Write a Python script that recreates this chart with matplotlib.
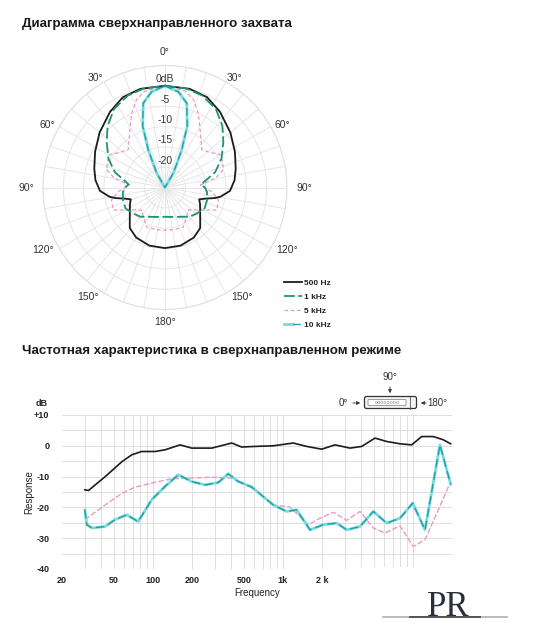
import numpy as np
import matplotlib
matplotlib.use('Agg')
import matplotlib.pyplot as plt
from matplotlib.patches import Rectangle, FancyBboxPatch
from matplotlib.legend_handler import HandlerTuple

plt.rcParams['font.family'] = ['Liberation Sans', 'DejaVu Sans']

# ---- polar pattern, half profile (0..180 deg), mirrored ----
ang_500 = [0, 14, 25, 36, 50, 63, 75, 84, 93, 99.5, 102, 105, 109, 115, 122, 130, 139, 150, 165, 180]
db_500 = [0, 0, -0.5, -2.0, -4.0, -5.7, -7.0, -7.8, -9.0, -11.2, -12.5, -14.5, -16.1, -15.5, -14.8,
          -13.7, -11.8, -10.8, -10.2, -10.1]

ang_1k = [0, 12, 22, 33, 43, 52, 63, 73, 80, 85, 90, 96, 107, 118, 129, 140, 150, 165, 180]
db_1k = [0, -0.1, -0.6, -2.0, -4.3, -6.8, -9.4, -12.1, -14.8, -16.0, -15.2, -14.6, -14.2, -14.0,
         -14.9, -15.6, -16.7, -17.5, -17.8]

ang_5k = [0, 12, 18, 24, 33, 44, 52, 59, 66, 73, 80, 86, 95, 103, 113.5, 120, 127, 134, 145, 155, 168, 180]
db_5k = [0, -0.8, -2.3, -4.9, -9.0, -12.0, -11.0, -9.2, -9.5, -10.0, -12.5, -16.3, -13.5, -11.5,
         -11.1, -13.9, -15.8, -17.0, -15.9, -14.3, -14.4, -14.5]

ang_10k = [0, 8, 14.5, 20, 24, 30, 36, 45, 90, 135, 180]
db_10k = [0, -1.25, -3.6, -9.0, -14.9, -20.9, -25, -25, -25, -25, -25]

ring_db = [-20, -15, -10, -5, 0]
ring_labels = ['-20', '-15', '-10', '-5', '0dB']
angle_labels = ['0°', '30°', '60°', '90°', '120°', '150°', '180°']

# ---- frequency response ----
f_0 = [30, 32, 43, 58, 69, 82, 104, 124, 162, 199, 284, 404, 482, 610, 844, 1202, 1525, 1990, 2518,
       3284, 4038, 5112, 6292, 7962, 9794, 11690, 14360, 17140, 19540]
r_0 = [-14.3, -14.5, -10.0, -5.1, -2.9, -1.85, -1.85, -1.3, 0.3, -0.75, -0.75, 0.9, -0.4, -0.2, 0.0,
       0.9, -0.2, -1.1, 0.3, -0.75, -0.2, 2.5, 1.4, 0.65, 0.3, 3.0, 3.0, 1.95, 0.65]

f_90 = [30, 43, 58, 73, 98, 140, 187, 284, 404, 468, 592, 844, 1135, 1570, 1931, 2444, 3098, 3920,
        4964, 6108, 7962, 10070, 12400, 15700, 19540]
r_90 = [-24.0, -19.2, -15.4, -13.4, -12.1, -10.7, -10.5, -10.2, -10.5, -11.6, -13.7, -19.2, -19.9,
        -25.6, -23.5, -21.6, -24.2, -21.3, -26.7, -28.3, -26.0, -32.7, -30.5, -20.8, -11.6]

f_180 = [30, 31, 34, 43, 51, 63, 77, 98, 124, 157, 199, 252, 319, 380, 454, 576, 844, 1069, 1277,
         1618, 2047, 2595, 3098, 3920, 4964, 6292, 7962, 9970, 12400, 16150, 19540]
r_180 = [-20.8, -25.6, -26.7, -26.2, -24.0, -22.4, -24.6, -17.5, -13.2, -9.4, -11.6, -12.7, -11.9,
         -9.1, -11.6, -13.4, -19.2, -21.3, -20.8, -27.3, -25.6, -25.1, -27.3, -26.2, -21.3, -25.1,
         -23.5, -18.6, -27.3, 0.3, -12.5]

x_ticks = [20, 50, 100, 200, 500, 1000, 2000]
x_tick_labels = ['20', '50', '100', '200', '500', '1k', '2 k']
y_ticks = [-40, -30, -20, -10, 0, 10]
y_tick_labels = ['-40', '-30', '-20', '-10', '0', '+10']

# where the angle labels sit (direction in deg, distance from centre in px)
label_dir = [0, 32.5, 62, 90, 117, 145, 180]
label_dist = [135.5, 130, 133, 139, 137, 133.5, 134.5]

W, H = 551, 640
BLACK = '#1c1c1c'
GREEN = '#1c9474'
PINK = '#e79cbf'
CYAN = '#74dbe6'
TEAL = '#2a9c98'


def mirror(ang, db):
    ang = np.asarray(ang, float)
    db = np.asarray(db, float)
    th = np.concatenate([ang, 360 - ang[::-1][1:]])
    r = np.concatenate([db, db[::-1][1:]])
    return np.deg2rad(th), r


def fx(x):
    return x / W


def fy(y):
    return 1 - y / H


fig = plt.figure(figsize=(W / 100, H / 100), dpi=100)

fig.text(fx(22), fy(24), 'Диаграмма сверхнаправленного захвата', fontsize=9.6,
         fontweight='bold', va='center', ha='left', color='#1a1a1a')
fig.text(fx(22), fy(351), 'Частотная характеристика в сверхнаправленном режиме', fontsize=9.6,
         fontweight='bold', va='center', ha='left', color='#1a1a1a')

# ---------------- polar ----------------
R = 122
cx, cy = 165, 187.5
ax = fig.add_axes([fx(cx - R), fy(cy + R), 2 * R / W, 2 * R / H], projection='polar')
ax.set_theta_zero_location('N')
ax.set_theta_direction(-1)
ax.set_ylim(-25, 5)
ax.set_yticks(ring_db + [5])
ax.set_yticklabels([])
ax.set_xticks(np.deg2rad(np.arange(0, 360, 10)))
ax.set_xticklabels([])
ax.grid(True, color='#e6e6e6', lw=0.7)
ax.spines['polar'].set_color('#e0e0e0')
ax.spines['polar'].set_linewidth(0.8)

px_per_db = R / 30.0
for d, dist, lab in zip(label_dir, label_dist, angle_labels):
    sides = [d] if d in (0, 180) else [d, 360 - d]
    for s in sides:
        ax.text(np.deg2rad(s), dist / px_per_db - 25, lab, ha='center', va='center',
                fontsize=7.5, color='#333333', clip_on=False)

for r, lab in zip(ring_db, ring_labels):
    ax.text(0, r + 0.4, lab, ha='center', va='bottom', fontsize=7.5, color='#333333', zorder=5)

t, r = mirror(ang_500, db_500)
h500, = ax.plot(t, r, color=BLACK, lw=1.3, label='500 Hz', zorder=4)
t, r = mirror(ang_1k, db_1k)
h1k, = ax.plot(t, r, color=GREEN, lw=1.3, dashes=(6, 2), label='1 kHz', zorder=4)
t, r = mirror(ang_5k, db_5k)
h5k, = ax.plot(t, r, color=PINK, lw=0.9, dashes=(3, 2), label='5 kHz', zorder=3)
t, r = mirror(ang_10k, db_10k)
h10a, = ax.plot(t, r, color=CYAN, lw=2.0, zorder=3)
h10b, = ax.plot(t, r, color=TEAL, lw=0.9, dashes=(6, 3), zorder=4)

leg = ax.legend([h500, h1k, h5k, (h10a, h10b)], ['500 Hz', '1 kHz', '5 kHz', '10 kHz'],
                handler_map={tuple: HandlerTuple(ndivide=None, pad=0)},
                loc='upper left', bbox_to_anchor=(fx(284), fy(279)), bbox_transform=fig.transFigure,
                frameon=False, fontsize=6, handlelength=2.1, handletextpad=0.3,
                labelspacing=0.75, borderpad=0, borderaxespad=0)
for txt in leg.get_texts():
    txt.set_color('#222222')
    txt.set_fontweight('bold')

# ---------------- frequency response ----------------
ax2 = fig.add_axes([fx(62), fy(569), 390 / W, 154 / H])
ax2.set_xscale('log')
ax2.set_xlim(20, 20000)
ax2.set_ylim(-40, 10)
for s in ax2.spines.values():
    s.set_visible(False)
for yv in range(-40, 11, 5):
    ax2.axhline(yv, color='#dedede', lw=0.7, zorder=0)
for dec in [10, 100, 1000, 10000]:
    for m in range(1, 10):
        fv = dec * m
        if 30 <= fv <= 20000:
            ax2.axvline(fv, color='#dedede', lw=0.7, zorder=0)

ax2.plot(f_0, r_0, color=BLACK, lw=1.2, zorder=4)
ax2.plot(f_90, r_90, color=PINK, lw=1.0, dashes=(4, 1.5), zorder=3)
ax2.plot(f_180, r_180, color=CYAN, lw=2.0, zorder=3)
ax2.plot(f_180, r_180, color=TEAL, lw=1.0, dashes=(6, 3), zorder=4)

ax2.set_xticks(x_ticks)
ax2.set_xticklabels(x_tick_labels)
ax2.xaxis.set_minor_locator(matplotlib.ticker.NullLocator())
ax2.set_yticks(y_ticks)
ax2.set_yticklabels(y_tick_labels)
ax2.tick_params(length=0, labelsize=6.5, labelcolor='#222222')
ax2.tick_params(axis='y', pad=9)
ax2.tick_params(axis='x', pad=5)
for lab in ax2.get_xticklabels() + ax2.get_yticklabels():
    lab.set_fontweight('bold')
ax2.set_xlabel('Frequency', fontsize=7, color='#222222', labelpad=2)
ax2.set_ylabel('Response', fontsize=7, color='#222222', labelpad=0)
fig.text(fx(42), fy(403), 'dB', fontsize=6.5, fontweight='bold', ha='center', va='center',
         color='#222222')

# ---------------- overlay: erased corner, mic inset, logo ----------------
ov = fig.add_axes([0, 0, 1, 1], zorder=10)
ov.set_xlim(0, W)
ov.set_ylim(H, 0)
ov.axis('off')
ov.patch.set_alpha(0)

ov.add_patch(Rectangle((349, 566.5), 115, 35, facecolor='white', edgecolor='none'))

ov.text(390, 377, '90°', fontsize=7, ha='center', va='center', color='#333333')
ov.annotate('', xy=(390, 396), xytext=(390, 384),
            arrowprops=dict(arrowstyle='-|>', lw=0.6, color='#333333', mutation_scale=5))
ov.add_patch(FancyBboxPatch((364.5, 396.5), 52, 12, boxstyle='round,pad=0,rounding_size=2',
                            facecolor='#f4f4f4', edgecolor='#333333', lw=0.9))
ov.plot([410, 410], [396.5, 408.5], color='#555555', lw=0.6)
ov.add_patch(FancyBboxPatch((368, 399.5), 38, 6, boxstyle='round,pad=0,rounding_size=1',
                            facecolor='white', edgecolor='#777777', lw=0.5))
ov.text(387, 402.5, 'oooooooo', fontsize=4, ha='center', va='center', color='#888888')
ov.text(343, 403, '0°', fontsize=7, ha='center', va='center', color='#333333')
ov.annotate('', xy=(363, 403), xytext=(350, 403),
            arrowprops=dict(arrowstyle='-|>', lw=0.6, color='#333333', mutation_scale=5))
ov.text(437, 403, '180°', fontsize=7, ha='center', va='center', color='#333333')
ov.annotate('', xy=(418, 403), xytext=(429, 403),
            arrowprops=dict(arrowstyle='-|>', lw=0.6, color='#333333', mutation_scale=5))

ov.plot([383, 507], [617, 617], color='#9a9a9a', lw=1.2, alpha=0.8)
ov.plot([410, 480], [617, 617], color='#555555', lw=1.4)
ov.text(448, 616, 'PR', fontsize=25, family='Liberation Serif', ha='center', va='baseline',
        color='#2a2e3a')

fig.savefig('out.png', dpi=100)
